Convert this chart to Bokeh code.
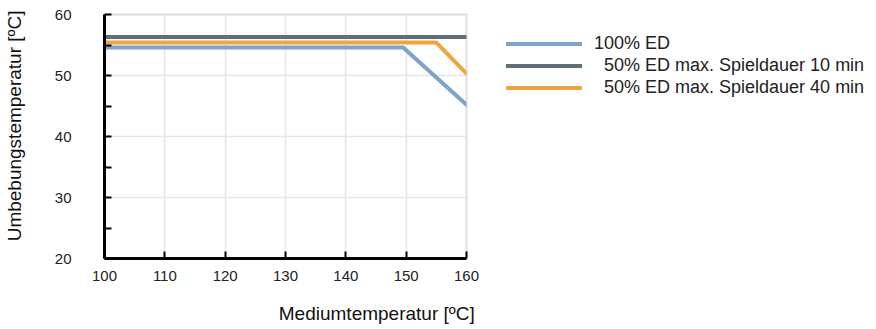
from bokeh.plotting import figure
from bokeh.models import Legend, LegendItem, Title, FixedTicker, Range1d
from bokeh.embed import file_html
from bokeh.resources import INLINE

# data
blue_x = [100, 149.5, 160]
blue_y = [54.6, 54.6, 45.2]
gray_x = [100, 160]
gray_y = [56.3, 56.3]
orange_x = [100, 155, 160]
orange_y = [55.4, 55.4, 50.3]

series_labels = ["100% ED",
                 "\u00a0\u00a050% ED max. Spieldauer 10 min",
                 "\u00a0\u00a050% ED max. Spieldauer 40 min"]
x_ticks = [100, 110, 120, 130, 140, 150, 160]
y_ticks = [20, 30, 40, 50, 60]
y_minor = [25, 35, 45, 55]
x_title = "Mediumtemperatur [ºC]"
y_title = "Umbebungstemperatur [ºC]"

FONT = "Liberation Sans"
TXT = "#222222"
TITLE_TXT = "#111111"

p = figure(width=870, height=329, output_backend="svg", toolbar_location=None,
           x_range=Range1d(100, 160), y_range=Range1d(20, 60),
           min_border_left=103, min_border_top=14, min_border_right=405, min_border_bottom=71,
           frame_width=362, frame_height=244)
p.background_fill_color = "white"
p.border_fill_color = "white"
p.outline_line_color = "#e4e4e4"
p.outline_line_width = 2.5

p.xgrid.ticker = FixedTicker(ticks=x_ticks)
p.ygrid.ticker = FixedTicker(ticks=y_ticks)
p.xgrid.grid_line_color = "#e6e6e6"
p.ygrid.grid_line_color = "#e6e6e6"
p.xgrid.grid_line_width = 1.5
p.ygrid.grid_line_width = 1.5

for ax in (p.xaxis[0], p.yaxis[0]):
    ax.axis_line_color = "black"
    ax.axis_line_width = 3
    ax.major_tick_line_color = "black"
    ax.major_tick_line_width = 2
    ax.major_tick_in = 7
    ax.major_tick_out = 0
    ax.minor_tick_line_color = "black"
    ax.minor_tick_line_width = 2
    ax.minor_tick_in = 7
    ax.minor_tick_out = 0
    ax.major_label_text_font = FONT
    ax.major_label_text_font_size = "15px"
    ax.major_label_text_color = TXT

xax = p.xaxis[0]
xax.ticker = FixedTicker(ticks=x_ticks)
xax.minor_tick_line_color = None
xax.major_label_standoff = 12

yax = p.yaxis[0]
yax.ticker = FixedTicker(ticks=y_ticks, minor_ticks=y_minor)
yax.major_label_standoff = 33
# leading no-break spaces shift the centred label up to match the reference
yax.axis_label = "\u00a0" * 4 + y_title
yax.axis_label_standoff = 27
yax.axis_label_text_font = FONT
yax.axis_label_text_font_size = "19px"
yax.axis_label_text_font_style = "normal"
yax.axis_label_text_color = TITLE_TXT

r_blue = p.line(blue_x, blue_y, line_color="#7fa3c9", line_width=4, line_cap="round", line_join="round")
r_gray = p.line(gray_x, gray_y, line_color="#5f6e77", line_width=4, line_cap="round", line_join="round")
r_orange = p.line(orange_x, orange_y, line_color="#efa53f", line_width=4, line_cap="round", line_join="round")

legend = Legend(items=[LegendItem(label=series_labels[0], renderers=[r_blue]),
                       LegendItem(label=series_labels[1], renderers=[r_gray]),
                       LegendItem(label=series_labels[2], renderers=[r_orange])],
                location=(40, 160), orientation="vertical",
                glyph_width=76, glyph_height=21, label_height=21, spacing=1,
                label_standoff=12, padding=0, margin=0,
                label_text_font=FONT, label_text_font_size="18px", label_text_color=TXT,
                background_fill_alpha=0, border_line_alpha=0)
p.add_layout(legend, "right")

if "axis_label_align" in xax.properties():
    # label is centred on the axis end; trailing no-break spaces move the
    # visible text left so that it ends just past the axis, as in the reference
    xax.axis_label = x_title + "\u00a0" * 34
    xax.axis_label_align = "end"
    xax.axis_label_standoff = 19
    xax.axis_label_text_font = FONT
    xax.axis_label_text_font_size = "19px"
    xax.axis_label_text_font_style = "normal"
    xax.axis_label_text_color = TITLE_TXT
else:
    p.add_layout(Title(text=x_title, align="right", offset=-8, standoff=20,
                       vertical_align="bottom",
                       text_font=FONT, text_font_size="19px", text_font_style="normal",
                       text_color=TITLE_TXT), "below")

open("out.html", "w").write(file_html(p, INLINE))
